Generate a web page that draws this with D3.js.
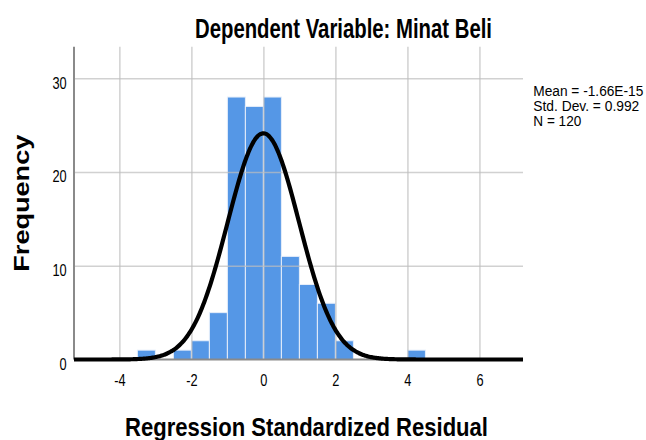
<!DOCTYPE html>
<html>
<head>
<meta charset="utf-8">
<script src="https://cdn.jsdelivr.net/npm/d3@7"></script>
<style>
  body { margin: 0; background: #fff; }
  text { font-family: "Liberation Sans", Arial, sans-serif; fill: #000; }
</style>
</head>
<body>
<svg id="chart" width="646" height="440"></svg>
<script>
// ---- data ----
const binStarts = [-3.5, -2.5, -2.0, -1.5, -1.0, -0.5, 0.0, 0.5, 1.0, 1.5, 2.0, 4.0];
const binCounts = [1, 1, 2, 5, 28, 27, 28, 11, 8, 6, 2, 1];
const binWidth = 0.5;
const xTicks = [-4, -2, 0, 2, 4, 6];
const yTicks = [0, 10, 20, 30];
const statMean = -1.66e-15;
const statSD = 0.992;
const statN = 120;
const legendLines = ["Mean = -1.66E-15", "Std. Dev. = 0.992", "N = 120"];
const titleText = "Dependent Variable: Minat Beli";
const xTitle = "Regression Standardized Residual";
const yTitle = "Frequency";

// ---- layout ----
const svg = d3.select("#chart");
const L = 74, R = 523, T = 46.7, B = 359.5;
const x = d3.scaleLinear().domain([-5.26, 7.21]).range([L, R]);
const y = d3.scaleLinear().domain([0, 33.37]).range([B, T]);

// bars
svg.append("g").selectAll("rect")
  .data(binStarts.map((s, i) => ({ s, c: binCounts[i] })))
  .join("rect")
  .attr("x", d => x(d.s))
  .attr("width", d => x(d.s + binWidth) - x(d.s))
  .attr("y", d => y(d.c))
  .attr("height", d => y(0) - y(d.c))
  .attr("fill", "#5597e6")
  .attr("stroke", "#e6eefa")
  .attr("stroke-width", 1);

// gridlines (on top of bars, semi-transparent)
const gx = svg.append("g").attr("transform", `translate(0,${B})`)
  .call(d3.axisBottom(x).tickValues(xTicks).tickSize(-(B - T)).tickFormat(""));
gx.select(".domain").remove();
gx.selectAll("line").attr("stroke", "#bdbdbd").attr("stroke-width", 1.5).attr("stroke-opacity", 0.7);

const gy = svg.append("g").attr("transform", `translate(${L},0)`)
  .call(d3.axisLeft(y).tickValues(yTicks.filter(v => v > 0)).tickSize(-(R - L)).tickFormat(""));
gy.select(".domain").remove();
gy.selectAll("line").attr("stroke", "#bdbdbd").attr("stroke-width", 1.5).attr("stroke-opacity", 0.7);

// axis lines
svg.append("line").attr("x1", L).attr("x2", L).attr("y1", T).attr("y2", B)
  .attr("stroke", "#8a8a8a").attr("stroke-width", 2);
svg.append("line").attr("x1", L).attr("x2", R).attr("y1", B).attr("y2", B)
  .attr("stroke", "#8a8a8a").attr("stroke-width", 2);

// tick labels (plain hyphen minus, as in the reference)
const fmt = d => String(d);
const ax = svg.append("g").attr("transform", `translate(0,${B})`)
  .call(d3.axisBottom(x).tickValues(xTicks).tickSize(0).tickFormat(fmt));
ax.select(".domain").remove();
ax.selectAll("text")
  .attr("y", 26.5).attr("dy", null)
  .attr("font-size", 16)
  .attr("transform", "scale(0.8,1)")
  .style("font-family", '"Liberation Sans", Arial, sans-serif')
  .attr("fill", "#000");

const ay = svg.append("g").attr("transform", `translate(${L},0)`)
  .call(d3.axisLeft(y).tickValues(yTicks).tickSize(0).tickFormat(fmt));
ay.select(".domain").remove();
ay.selectAll("text")
  .attr("x", -9.1).attr("y", 9.7).attr("dy", null)
  .attr("font-size", 16)
  .attr("transform", "scale(0.8,1)")
  .style("font-family", '"Liberation Sans", Arial, sans-serif')
  .attr("fill", "#000");

// normal curve from reported statistics
const dens = v => statN * binWidth / (statSD * Math.sqrt(2 * Math.PI)) *
  Math.exp(-0.5 * Math.pow((v - statMean) / statSD, 2));
const [x0, x1] = x.domain();
const xs = d3.range(x0, x1 + 1e-9, (x1 - x0) / 400);
svg.append("path")
  .datum(xs)
  .attr("d", d3.line().x(v => x(v)).y(v => y(dens(v))).curve(d3.curveBasis))
  .attr("fill", "none")
  .attr("stroke", "#000")
  .attr("stroke-width", 4.2)
  .attr("stroke-linejoin", "round");

// titles
svg.append("text").text(titleText)
  .attr("x", 195).attr("y", 37.5)
  .attr("font-size", 28).attr("font-weight", "bold")
  .attr("textLength", 297).attr("lengthAdjust", "spacingAndGlyphs");

svg.append("text").text(xTitle)
  .attr("x", 125).attr("y", 436)
  .attr("font-size", 26).attr("font-weight", "bold")
  .attr("textLength", 363).attr("lengthAdjust", "spacingAndGlyphs");

svg.append("text").text(yTitle)
  .attr("transform", "translate(28.5,271.7) rotate(-90)")
  .attr("font-size", 22).attr("font-weight", "bold")
  .attr("textLength", 137).attr("lengthAdjust", "spacingAndGlyphs");

// legend / stats box
const legendWidths = [110, 106, 48];
svg.append("g").selectAll("text")
  .data(legendLines)
  .join("text")
  .text(d => d)
  .attr("x", 533.3)
  .attr("y", (d, i) => 96 + i * 15)
  .attr("font-size", 14)
  .attr("textLength", (d, i) => legendWidths[i])
  .attr("lengthAdjust", "spacingAndGlyphs");
</script>
</body>
</html>
